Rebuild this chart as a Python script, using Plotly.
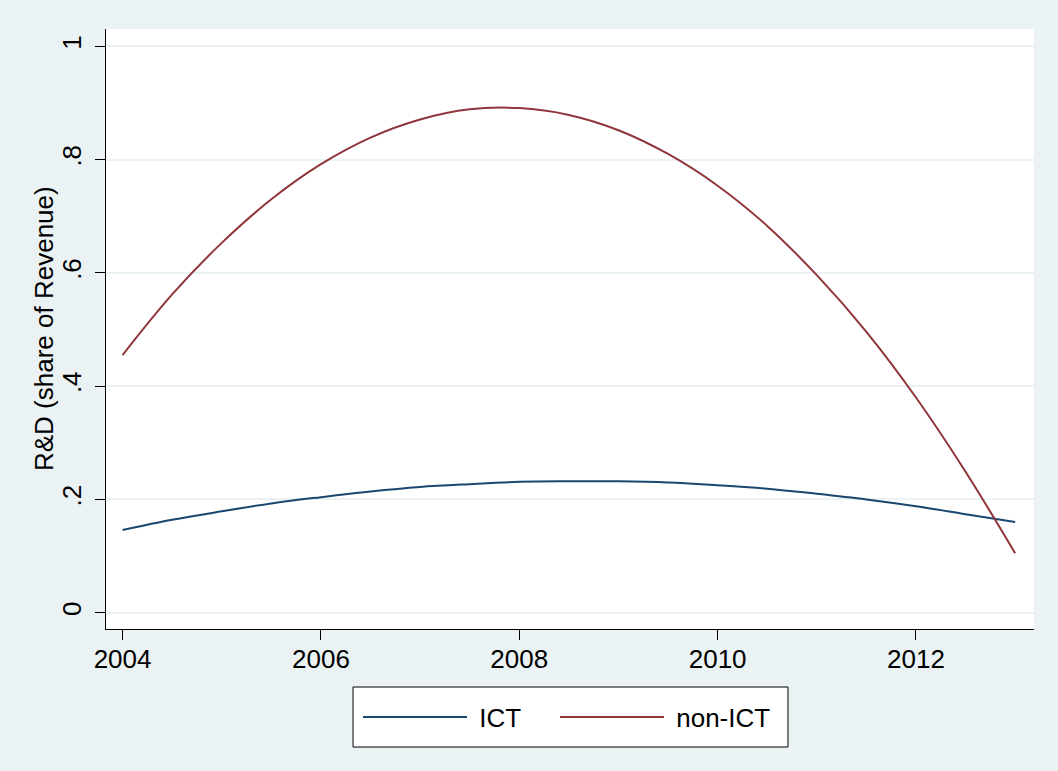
import plotly.graph_objects as go

years = [2004, 2004.5, 2005, 2005.5, 2006, 2006.5, 2007, 2007.5, 2008, 2008.5,
         2009, 2009.5, 2010, 2010.5, 2011, 2011.5, 2012, 2012.5, 2013]
ict = [0.146, 0.164, 0.179, 0.193, 0.204, 0.214, 0.222, 0.227, 0.231, 0.232,
       0.232, 0.230, 0.225, 0.219, 0.210, 0.200, 0.188, 0.174, 0.160]
non_ict = [0.455, 0.562, 0.653, 0.730, 0.792, 0.839, 0.871, 0.889, 0.891, 0.879,
           0.852, 0.810, 0.754, 0.683, 0.596, 0.496, 0.380, 0.249, 0.105]

x_ticks = [2004, 2006, 2008, 2010, 2012]
y_ticks = [0, 0.2, 0.4, 0.6, 0.8, 1]
y_tick_text = ["0", ".2", ".4", ".6", ".8", "1"]

BG = "#EAF2F3"
FONT = "Liberation Sans, Arial, sans-serif"

fig = go.Figure()
fig.add_trace(go.Scatter(x=years, y=ict, mode="lines", name="&nbsp;ICT",
                         legendwidth=78,
                         line=dict(color="#1A476F", width=2, shape="spline")))
fig.add_trace(go.Scatter(x=years, y=non_ict, mode="lines", name="&nbsp;non-ICT",
                         legendwidth=108,
                         line=dict(color="#90353B", width=2, shape="spline")))

# legend frame (paper coordinates)
fig.add_shape(type="rect", xref="paper", yref="paper",
              x0=0.2662, x1=0.7349, y0=-0.1967, y1=-0.0967,
              fillcolor="white", line=dict(color="black", width=1), layer="below")

fig.add_annotation(text="R&amp;D (share of Revenue)", xref="paper", yref="paper",
                   x=-0.0668, y=0.5, xanchor="center", yanchor="middle",
                   textangle=-90, showarrow=False, font=dict(size=26))

fig.update_layout(
    width=1058, height=771,
    paper_bgcolor=BG, plot_bgcolor="white",
    margin=dict(l=106, r=24, t=29, b=142, autoexpand=False),
    font=dict(family=FONT, size=26, color="black"),
    showlegend=True,
    legend=dict(orientation="h", x=0.5, xanchor="center", y=-0.1467, yanchor="middle",
                bgcolor="rgba(0,0,0,0)", borderwidth=0,
                font=dict(size=26), itemwidth=104),
    xaxis=dict(range=[2003.833, 2013.19], tickvals=x_ticks, ticks="outside",
               ticklen=10, tickcolor="black", showline=True, linecolor="black",
               linewidth=1, showgrid=False, zeroline=False, mirror=False,
               ticklabelstandoff=-3, automargin=False),
    yaxis=dict(range=[-0.0288, 1.0307], tickvals=y_ticks, ticktext=y_tick_text,
               tickangle=-90, ticks="outside", ticklen=10, tickcolor="black",
               showline=True, linecolor="black", linewidth=1,
               showgrid=True, gridcolor=BG, gridwidth=1.5, zeroline=False,
               ticklabelstandoff=4, automargin=False),
)

fig.write_html("out.html", config={"displayModeBar": False},
               post_script="document.body.style.margin='0';")
